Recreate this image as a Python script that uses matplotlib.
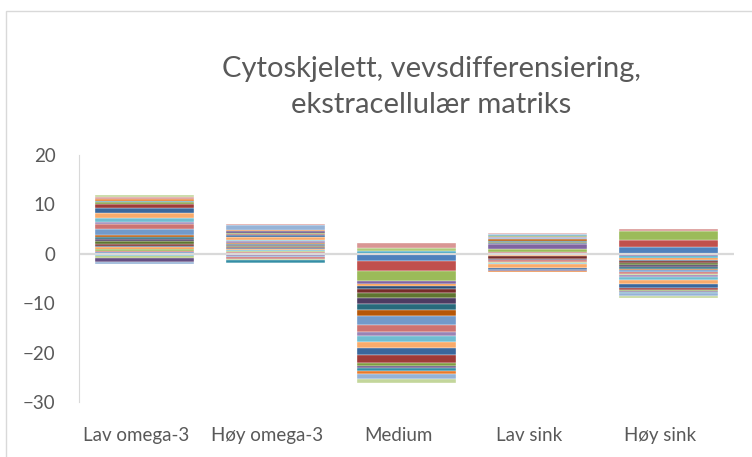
import numpy as np
import matplotlib.pyplot as plt
from matplotlib.patches import Rectangle
import matplotlib.transforms as mtransforms

kategorier = ['Lav omega-3', 'Høy omega-3', 'Medium', 'Lav sink', 'Høy sink']

# en verdi per serie (27 serier), lest av figuren
lav_omega3 = [0.3, 0.25, 0.35, -0.3, -0.2, 0.4, 0.3, 0.45, 0.5, 0.45, 0.4, 0.5, 1.1, 1.05,
              -0.25, 0.35, 0.8, 1.1, 0.95, 0.8, 0.35, -0.9, 0.35, 0.4, -0.35, 0.3, 0.45]
hoy_omega3 = [0.2, 0.15, 0.2, -0.35, 0.15, 0.25, 0.2, 0.15, 0.25, 0.2, 0.25, 0.15, -0.2, -0.45,
              -0.25, 0.35, 0.3, 0.7, 0.3, 0.25, 0.25, 0.4, -0.55, 0.2, 0.85, 0.3, -0.1]
medium = [-1.5, -2.0, -2.1, -0.45, 0.5, -0.5, -0.67, -0.8, -1.0, -1.05, -1.25, -1.3, -1.75, -1.55,
          0.75, -0.75, -1.1, -1.35, -1.35, -1.55, -0.75, -0.3, -0.75, -0.45, -1.0, 0.9, -0.8]
lav_sink = [0.2, 0.15, 0.65, 1.0, -0.3, -0.2, 0.2, -0.5, 0.15, -0.3, 0.25, 0.3, 0.3, -0.35,
            -0.3, 0.15, -0.2, -0.65, -0.4, -0.15, 0.2, -0.1, 0.25, -0.3, 0.3, 0.05, 0.05]
hoy_sink = [1.35, 1.5, 1.7, -0.35, -0.55, -0.3, -0.3, -0.3, -0.45, -0.45, -0.45, -0.2, -0.35, -0.3,
            -0.3, -0.35, -0.6, -0.85, -0.8, -0.35, -0.25, -0.15, -0.2, -0.15, -0.5, 0.45, -0.45]

# excel 2010 fargesyklus
farger = ['#4F81BD', '#C0504D', '#9BBB59', '#8064A2', '#4BACC6', '#F79646',
          '#2C4D75', '#772C2A', '#5F7530', '#4D3B62', '#276A7C', '#B65708',
          '#729ACA', '#CD7371', '#AFC97A', '#9983B5', '#6FBDD1', '#F9AB6B',
          '#3A679C', '#9F3B38', '#7E9D40', '#664F83', '#358EA5', '#E97A2A',
          '#95B3D7', '#D99694', '#C3D69B']

tekst = '#595959'
grid = '#D9D9D9'
plt.rcParams['font.family'] = ['Lato', 'DejaVu Sans']

data = np.array([lav_omega3, hoy_omega3, medium, lav_sink, hoy_sink])
x = np.arange(len(kategorier))

fig = plt.figure(figsize=(7.52, 4.57), dpi=100)
ax = fig.add_axes([79/752, 55/457, 655/752, 247/457])

pos_base = np.zeros(len(x))
neg_base = np.zeros(len(x))
for j in range(data.shape[1]):
    v = data[:, j]
    bunn = np.where(v >= 0, pos_base, neg_base)
    ax.bar(x, v, bottom=bunn, width=0.75, color=farger[j % len(farger)],
           edgecolor='white', linewidth=0.25, zorder=2)
    pos_base += np.clip(v, 0, None)
    neg_base += np.clip(v, None, 0)

ax.axhline(0, color=grid, linewidth=1.6, zorder=3)

ax.set_xlim(-0.5, 4.5)
ax.set_ylim(-30, 20)
ax.set_yticks([-30, -20, -10, 0, 10, 20])
ax.set_xticks(x, kategorier)
for s in ['top', 'right', 'bottom']:
    ax.spines[s].set_visible(False)
ax.spines['left'].set_color(grid)
ax.tick_params(axis='both', length=0, labelsize=13.5, labelcolor=tekst)
ax.tick_params(axis='y', pad=17)
ax.tick_params(axis='x', pad=18)
# excel forskyver kategoritekstene litt mot venstre
for lbl in ax.get_xticklabels():
    lbl.set_transform(lbl.get_transform() + mtransforms.ScaledTranslation(-8/100, 0, fig.dpi_scale_trans))

fig.text(431/752, 1 - 87/457, 'Cytoskjelett, vevsdifferensiering,\nekstracellulær matriks',
         ha='center', va='center', fontsize=21, color=tekst, linespacing=1.45)

# diagramramme (beskåret i høyre og nedre kant)
fig.patches.append(Rectangle((5.5/752, -0.1), 1.2, 1.1 - 10.5/457, transform=fig.transFigure,
                             fill=False, edgecolor=grid, linewidth=1))

fig.savefig('out.png', dpi=100)
